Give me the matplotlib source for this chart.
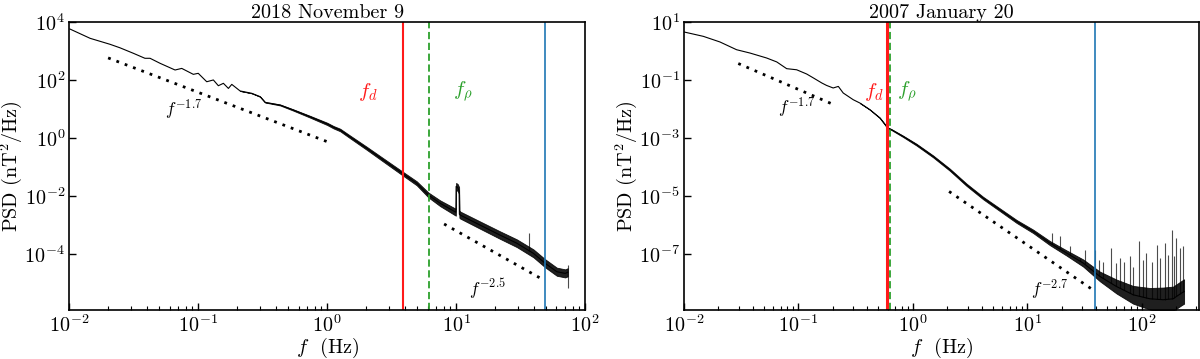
import numpy as np
import matplotlib
matplotlib.use("Agg")
import matplotlib.pyplot as plt

plt.rcParams['font.family'] = ['cmr10', 'DejaVu Serif']
plt.rcParams['mathtext.fontset'] = 'cm'
plt.rcParams['axes.formatter.use_mathtext'] = True

# ---------------- data: left panel (2018 November 9) ----------------
left_title = "2018 November 9"
left_f = [0.0101, 0.0145, 0.0207, 0.0247, 0.0314, 0.0386, 0.0423, 0.0506, 0.0661, 0.0745,
          0.0916, 0.100, 0.1164, 0.131, 0.1432, 0.1567, 0.1714, 0.182, 0.211, 0.26,
          0.302, 0.33, 0.432, 0.547, 0.736, 1.0, 1.12, 1.26, 1.5, 2.03,
          2.73, 3.68, 4.95, 6.1, 7.52, 9.8, 9.95, 10.0, 10.3, 10.55,
          10.6, 10.75, 16.3, 21.9, 29.6, 39.8, 49.0, 60.4, 70.2, 73.4]
left_psd = [5600, 2670, 1660, 1260, 813, 547, 547, 367, 216, 245,
            153, 166, 85, 98, 62, 75, 50, 69, 41, 34,
            26, 16.6, 13.4, 9.0, 5.3, 3.0, 2.3, 1.85, 1.08, 0.43,
            0.17, 0.067, 0.0268, 0.0106, 0.0055, 0.0028, 0.0027, 0.021, 0.019, 0.015,
            0.0023, 0.00216, 8.5e-4, 4.4e-4, 2.3e-4, 1.03e-4, 4.7e-5, 2.4e-5, 2.1e-5, 2.3e-5]
# half-width of the noisy band (decades)
left_spread_f = [0.01, 0.25, 1.0, 5.0, 10.0, 50.0, 75.0]
left_spread = [0.0, 0.0, 0.04, 0.07, 0.12, 0.14, 0.14]
# narrow spikes: frequency, low, high
left_spike_f = [36.8, 73.4]
left_spike_lo = [1.2e-4, 6.5e-6]
left_spike_hi = [5.0e-4, 4.1e-5]
left_fd, left_frho, left_fblue = 3.86, 6.14, 49.0
left_fit1 = dict(f=[0.02, 1.0], amp=0.73, slope=-1.7, label="$f^{-1.7}$", pos=(0.055, 6.1))
left_fit2 = dict(f=[8.07, 48.2], amp=0.196, slope=-2.5, label="$f^{-2.5}$", pos=(12.5, 3.8e-6))
left_xlim = (1e-2, 1e2)
left_ylim = (1.15e-6, 1e4)
left_yticks = [1e-4, 1e-2, 1e0, 1e2, 1e4]
left_fd_pos = (2.05, 38.5)
left_frho_pos = (11.3, 38.5)

# ---------------- data: right panel (2007 January 20) ----------------
right_title = "2007 January 20"
right_f = [0.01, 0.01476, 0.0206, 0.0288, 0.0377, 0.0527, 0.0646, 0.0789, 0.0964, 0.118,
           0.135, 0.16, 0.176, 0.201, 0.223, 0.246, 0.301, 0.344, 0.421, 0.515,
           0.60, 0.65, 0.822, 1.076, 1.503, 2.1, 2.94, 4.11, 5.75, 8.05,
           11.25, 15.7, 22.0, 30.7, 43.0, 60.1, 83.9, 117.5, 153.5, 187.5,
           222.0, 234.0]
right_psd = [4.42, 3.12, 2.0, 1.08, 0.83, 0.56, 0.41, 0.24, 0.22, 0.157,
             0.115, 0.077, 0.0635, 0.0518, 0.0587, 0.0348, 0.0204, 0.0157, 0.00925, 0.00479,
             0.0022, 0.0019, 0.00111, 5.74e-4, 2.26e-4, 7.9e-5, 2.39e-5, 8.3e-6, 3.29e-6, 1.3e-6,
             5.9e-7, 2.34e-7, 1.06e-7, 4.8e-8, 1.65e-8, 7.4e-9, 3.85e-9, 2.8e-9, 2.6e-9, 2.8e-9,
             4.4e-9, 5.0e-9]
right_spread_f = [0.01, 0.4, 1.0, 5.0, 10.0, 20.0, 40.0, 60.0, 100.0, 150.0, 240.0]
right_spread = [0.0, 0.0, 0.03, 0.045, 0.055, 0.08, 0.15, 0.24, 0.34, 0.42, 0.42]
right_spike_f = [14.7, 16.3, 19.2, 23.5, 28.8, 31.8, 38.9, 42.4, 45.9, 53.3,
                 59.3, 64.3, 69.7, 78.6, 84.0, 94.8, 102.8, 108.4, 121.6, 134.4,
                 143.6, 158.8, 169.8, 181.6, 190.0, 200.8, 214.8, 229.6]
right_spike_hi = [2.65e-7, 5.2e-7, 4.0e-7, 1.8e-7, 7.1e-8, 1.37e-7, 1.37e-7, 6.2e-8, 5.4e-8, 1.57e-7,
                  4.8e-8, 7.1e-8, 5.4e-8, 8.1e-8, 3.6e-8, 2.65e-7, 6.2e-8, 1.06e-7, 5.4e-8, 2.0e-7,
                  7.1e-8, 2.3e-7, 9.2e-8, 6.7e-7, 8.1e-8, 3.5e-7, 1.57e-7, 1.8e-7]
right_fd, right_frho, right_fblue = 0.597, 0.634, 39.1
right_fit1 = dict(f=[0.0298, 0.201], amp=9.2e-4, slope=-1.7, label="$f^{-1.7}$", pos=(0.0667, 7.1e-3))
right_fit2 = dict(f=[2.07, 37.1], amp=1.0e-4, slope=-2.7, label="$f^{-2.7}$", pos=(10.7, 3.9e-9))
right_xlim = (1e-2, 316)
right_ylim = (1.15e-9, 10)
right_yticks = [1e-7, 1e-5, 1e-3, 1e-1, 1e1]
right_fd_pos = (0.455, 0.0377)
right_frho_pos = (0.887, 0.0377)

RED, GREEN, BLUE = "#ff1a1a", "#2ca02c", "#1f77b4"
FS = 14.5

fig = plt.figure(figsize=(12, 3.59), dpi=100)
axL = fig.add_axes([0.05775, 0.1365, 0.4298, 0.8031])
axR = fig.add_axes([0.57, 0.1365, 0.4292, 0.8031])


def draw(ax, f, psd, sf, sp, spk_f, spk_lo, spk_hi, fd, frho, fblue, fit1, fit2,
         xlim, ylim, yticks, title, fdpos, frpos, red_lw):
    f = np.asarray(f, float)
    psd = np.asarray(psd, float)
    lf = np.log10(f)
    spread = np.interp(lf, np.log10(sf), sp)
    band = spread > 0.0
    ax.fill_between(f, psd * 10 ** (-spread), psd * 10 ** spread, where=band,
                    color="black", lw=0.6, alpha=0.88, interpolate=True)
    ax.plot(f, psd, color="black", lw=0.8)
    if spk_lo is None:
        spk_lo = 10 ** np.interp(np.log10(spk_f), lf, np.log10(psd))
    ax.vlines(spk_f, spk_lo, spk_hi, color="black", lw=0.8, alpha=0.7)
    for fit in (fit1, fit2):
        ff = np.asarray(fit["f"])
        ax.plot(ff, fit["amp"] * ff ** fit["slope"], ls=(0, (1, 2.2)), color="black", lw=2.0)
        ax.text(fit["pos"][0], fit["pos"][1], fit["label"], fontsize=12.5, ha="left", va="baseline")
    ax.axvline(fd, color=RED, lw=red_lw)
    ax.axvline(frho, color=GREEN, lw=1.3, ls=(0, (4, 2)))
    ax.axvline(fblue, color=BLUE, lw=1.2)
    ax.text(fdpos[0], fdpos[1], "$f_d$", color=RED, fontsize=15, ha="center", va="center")
    ax.text(frpos[0], frpos[1], r"$f_\rho$", color=GREEN, fontsize=15, ha="center", va="center")
    ax.set_xscale("log")
    ax.set_yscale("log")
    ax.set_xlim(*xlim)
    ax.set_ylim(*ylim)
    ax.set_yticks(yticks)
    ax.yaxis.set_minor_locator(matplotlib.ticker.NullLocator())
    ax.tick_params(which="both", direction="in", top=False, right=False, labelsize=FS)
    ax.tick_params(which="major", length=5, width=1, pad=3)
    ax.tick_params(which="minor", length=3, width=0.8)
    for s in ax.spines.values():
        s.set_linewidth(1.2)
    ax.set_title(title, fontsize=FS, pad=3)
    ax.set_xlabel("$f$  (Hz)", fontsize=FS, labelpad=0)
    ax.set_ylabel("PSD (nT$^2$/Hz)", fontsize=FS, labelpad=0)


draw(axL, left_f, left_psd, left_spread_f, left_spread, left_spike_f, left_spike_lo, left_spike_hi,
     left_fd, left_frho, left_fblue, left_fit1, left_fit2, left_xlim, left_ylim, left_yticks,
     left_title, left_fd_pos, left_frho_pos, 1.5)
draw(axR, right_f, right_psd, right_spread_f, right_spread, right_spike_f, None, right_spike_hi,
     right_fd, right_frho, right_fblue, right_fit1, right_fit2, right_xlim, right_ylim, right_yticks,
     right_title, right_fd_pos, right_frho_pos, 2.2)

fig.savefig("out.png", dpi=100)
